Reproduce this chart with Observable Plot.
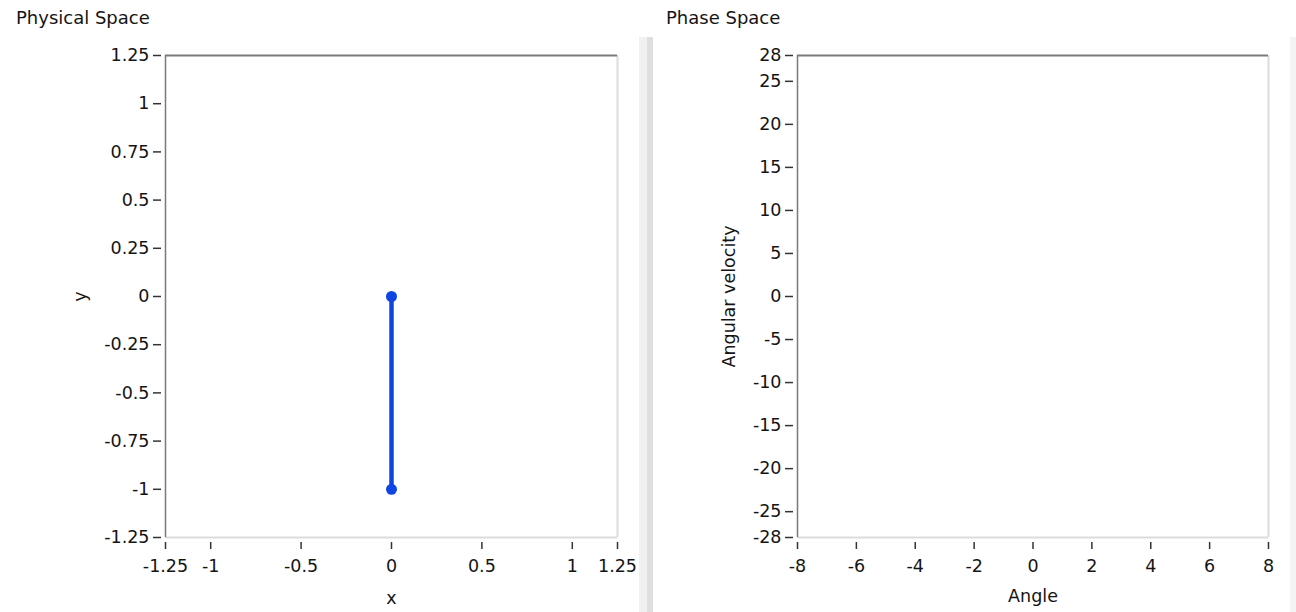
<!DOCTYPE html>
<html>
<head>
<meta charset="utf-8">
<script src="https://cdn.jsdelivr.net/npm/d3@7"></script>
<script src="https://cdn.jsdelivr.net/npm/@observablehq/plot@0.6"></script>
<style>
  html, body { margin: 0; padding: 0; background: #ffffff; }
  #root { position: relative; width: 1296px; height: 612px; overflow: hidden; background: #fff; font-family: "DejaVu Sans", sans-serif; }
  .title { position: absolute; top: 7px; font-size: 18px; color: #141414; white-space: nowrap; }
  .panel { position: absolute; top: 0; }
  .strip { position: absolute; }
</style>
</head>
<body>
<div id="root">
  <div class="title" id="t1" style="left:16px;"></div>
  <div class="title" id="t2" style="left:666px;"></div>
  <div class="strip" style="left:639px; top:37px; width:8px; height:575px; background:#f0f0f0;"></div>
  <div class="strip" style="left:647px; top:37px; width:6px; height:575px; background:#dfdfdf;"></div>
  <div class="strip" style="left:1290px; top:37px; width:6px; height:575px; background:#f4f4f4;"></div>
  <div class="panel" id="left" style="left:0px;"></div>
  <div class="panel" id="right" style="left:653px;"></div>
</div>
<script>
// ---- Titles ----
const titles = ["Physical Space", "Phase Space"];

// ---- Physical space: pendulum (pivot at origin, bob at (0,-1)) ----
const pendulumX = [0, 0];
const pendulumY = [0, -1];
const physXDomain = [-1.25, 1.25];
const physYDomain = [-1.25, 1.25];
const physXTicks = [-1.25, -1, -0.5, 0, 0.5, 1, 1.25];
const physYTicks = [1.25, 1, 0.75, 0.5, 0.25, 0, -0.25, -0.5, -0.75, -1, -1.25];
const physXLabel = "x";
const physYLabel = "y";

// ---- Phase space: trajectory (empty in the reference) ----
const phaseAngle = [];
const phaseVelocity = [];
const phaseXDomain = [-8, 8];
const phaseYDomain = [-28, 28];
const phaseXTicks = [-8, -6, -4, -2, 0, 2, 4, 6, 8];
const phaseYTicks = [28, 25, 20, 15, 10, 5, 0, -5, -10, -15, -20, -25, -28];
const phaseXLabel = "Angle";
const phaseYLabel = "Angular velocity";

document.getElementById("t1").textContent = titles[0];
document.getElementById("t2").textContent = titles[1];

const FONT = {fontFamily: "DejaVu Sans, sans-serif", fontSize: "17.5px", color: "#141414", background: "transparent", overflow: "visible"};
const darkEdge = "#7a7a7a";
const lightEdge = "#dcdcdc";
const tickColor = "#333333";

function frameMarks(xd, yd) {
  return [
    Plot.ruleY([yd[0]], {stroke: lightEdge, strokeWidth: 2}),
    Plot.ruleX([xd[1]], {stroke: lightEdge, strokeWidth: 2}),
    Plot.ruleY([yd[1]], {stroke: darkEdge, strokeWidth: 2}),
    Plot.ruleX([xd[0]], {stroke: darkEdge, strokeWidth: 1.5})
  ];
}

function axes(xTicks, yTicks, xLabel, yLabel, xOff, yOff) {
  return [
    Plot.axisX({
      ticks: xTicks, tickFormat: d => String(d), tickSize: 7, tickPadding: 10, dy: 5,
      stroke: tickColor, strokeWidth: 1.5, fill: "#141414",
      label: xLabel, labelAnchor: "center", labelArrow: "none", labelOffset: xOff
    }),
    Plot.axisY({
      ticks: yTicks, tickFormat: d => String(d), tickSize: 8, tickPadding: 4, dx: -4,
      stroke: tickColor, strokeWidth: 1.5, fill: "#141414",
      label: yLabel, labelAnchor: "center", labelArrow: "none", labelOffset: yOff
    })
  ];
}

const pend = pendulumX.map((x, i) => ({x, y: pendulumY[i]}));
const leftPlot = Plot.plot({
  width: 640, height: 612,
  marginLeft: 165, marginRight: 23, marginTop: 55, marginBottom: 75,
  style: FONT,
  x: {domain: physXDomain},
  y: {domain: physYDomain},
  marks: [
    ...frameMarks(physXDomain, physYDomain),
    ...axes(physXTicks, physYTicks, physXLabel, physYLabel, 66, 92),
    Plot.line(pend, {x: "x", y: "y", stroke: "#0e46e4", strokeWidth: 4.5}),
    Plot.dot(pend, {x: "x", y: "y", r: 5.5, fill: "#0e46e4", stroke: "none"})
  ]
});
document.getElementById("left").appendChild(leftPlot);

const phase = phaseAngle.map((a, i) => ({a, v: phaseVelocity[i]}));
const rightPlot = Plot.plot({
  width: 643, height: 612,
  marginLeft: 144, marginRight: 28, marginTop: 55, marginBottom: 75,
  style: FONT,
  x: {domain: phaseXDomain},
  y: {domain: phaseYDomain},
  marks: [
    ...frameMarks(phaseXDomain, phaseYDomain),
    ...axes(phaseXTicks, phaseYTicks, phaseXLabel, phaseYLabel, 64, 75),
    Plot.line(phase, {x: "a", y: "v", stroke: "#0e46e4", strokeWidth: 2})
  ]
});
document.getElementById("right").appendChild(rightPlot);
</script>
</body>
</html>
